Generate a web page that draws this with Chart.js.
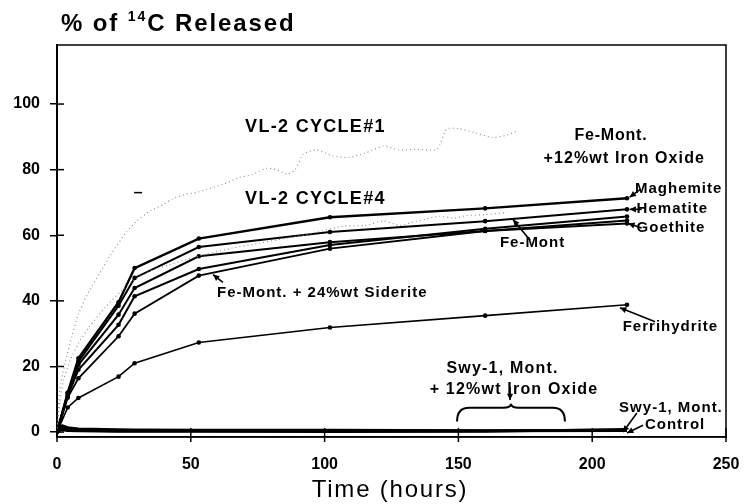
<!DOCTYPE html>
<html>
<head>
<meta charset="utf-8">
<script src="https://cdn.jsdelivr.net/npm/chart.js@4/dist/chart.umd.min.js"></script>
<style>
html,body{margin:0;padding:0;background:#fff;}
#wrap{width:749px;height:504px;position:relative;}
</style>
</head>
<body>
<div id="wrap"><canvas id="c" width="749" height="504"></canvas></div>
<script>
// ---- data ----
const times = [0, 4, 8, 23, 29, 53, 102, 160, 213];
const maghemite   = [0, 12, 22.5, 39.6, 50, 59, 65.5, 68.2, 71.3];
const hematite    = [0, 12, 21.5, 38.5, 47, 56.4, 61, 64.3, 67.9];
const goethite    = [0, 11.5, 20.5, 35.8, 43.9, 53.6, 57.9, 61.3, 63.6];
const feMont      = [0, 11, 19, 32.7, 41.4, 49.7, 57, 62, 65.7];
const siderite    = [0, 10.5, 16.4, 29.2, 36.1, 47.7, 55.9, 61.3, 64.5];
const ferrihydrite= [0, 7.5, 10.4, 16.9, 21, 27.3, 31.9, 35.5, 38.8];

const swyTimes    = [0, 1, 2, 4, 8, 23, 29, 53, 102, 160, 213];
const swyOxideA   = [0, 1.8, 2.0, 1.4, 1.0, 0.8, 0.7, 0.6, 0.6, 0.5, 0.6];
const swyOxideB   = [0, 1.2, 1.5, 1.0, 0.7, 0.5, 0.5, 0.4, 0.4, 0.4, 0.5];
const swyOxideC   = [0, 0.8, 1.0, 0.7, 0.5, 0.3, 0.3, 0.3, 0.3, 0.3, 0.4];
const swyControl  = [0, 0.5, 0.6, 0.4, 0.3, 0.2, 0.2, 0.2, 0.1, 0.2, 0.9];

const cycle1Times = [0, 1, 3, 5.5, 8, 12, 16, 20, 26, 30, 35, 40, 43, 48, 52, 56, 62, 68, 73, 78, 82, 86, 89, 92, 97, 103, 109, 115, 122, 128, 134, 142, 145.6, 150, 156, 163, 168, 172];
const cycle1      = [0, 12.8, 21, 29, 36, 43, 48.5, 54, 61, 64.5, 67.5, 69.5, 71, 72.5, 73, 74, 75.5, 77.6, 78.5, 80.4, 80, 78.6, 80, 84.7, 86, 84.2, 83.7, 85, 87.2, 86, 86.2, 86.2, 92.4, 92.5, 91.3, 89.8, 90.5, 91.8];
const cycle4Times = [0, 1, 2.5, 5, 8, 12, 18, 24, 30, 36, 42, 48, 55, 65, 75, 85, 95, 107, 115, 122, 128, 132, 138, 143, 148, 153, 160, 168];
const cycle4      = [0, 9, 16, 22, 27, 32, 38, 43, 47, 49.5, 51, 52.5, 54, 56, 57.5, 59, 60.5, 62.8, 63, 64.3, 63, 63.8, 65, 65.8, 65.2, 66, 66.3, 66.9];

const xTicks = [0, 50, 100, 150, 200, 250];
const yTicks = [0, 20, 40, 60, 80, 100];

const titleMain = ["% of ", "14", "C Released"];
const xTitle = "Time (hours)";

function pts(xs, ys){ return xs.map((x,i)=>({x:x, y:ys[i]})); }

function solid(label, xs, ys, w){
  return {label, data: pts(xs, ys), borderColor:'#000', backgroundColor:'#000',
    borderWidth:w, pointRadius:2.3, pointBackgroundColor:'#000', pointBorderWidth:0, tension:0};
}
function flat(label, xs, ys){
  return {label, data: pts(xs, ys), borderColor:'#000', borderWidth:2.5, pointRadius:0, tension:0};
}
function dotted(label, xs, ys){
  return {label, data: pts(xs, ys), borderColor:'#8a8a8a', borderWidth:1.1, borderDash:[1,3], pointRadius:0, tension:0.2};
}

// ---- annotations (anchored in data units) ----
const BF = 'bold ';
const FAM = '"Liberation Sans", Arial, sans-serif';
const labels = [
  {t:"VL-2 CYCLE#1", x:70.3, y:93, size:18, align:'left', sp:1.3},
  {t:"VL-2 CYCLE#4", x:70.3, y:71, size:18, align:'left', sp:1.3},
  {t:"Fe-Mont.", x:207, y:90.5, size:16, align:'center', sp:0.8},
  {t:"+12%wt Iron Oxide", x:212, y:83.5, size:16, align:'center', sp:1.1},
  {t:"Maghemite", x:216, y:74, size:15, align:'left', sp:1},
  {t:"Hematite", x:216.6, y:67.9, size:15, align:'left', sp:1},
  {t:"Goethite", x:216.6, y:62.2, size:15, align:'left', sp:1},
  {t:"Fe-Mont", x:165.5, y:57.7, size:15, align:'left', sp:1},
  {t:"Fe-Mont. + 24%wt Siderite", x:59.8, y:42.4, size:15, align:'left', sp:1},
  {t:"Ferrihydrite", x:211.4, y:32, size:15, align:'left', sp:1},
  {t:"Swy-1, Mont.", x:166.5, y:19.3, size:16, align:'center', sp:1.2},
  {t:"+ 12%wt Iron Oxide", x:170.8, y:13, size:16, align:'center', sp:1.2},
  {t:"Swy-1, Mont.", x:248.8, y:7.3, size:15, align:'right', sp:1},
  {t:"Control", x:219.7, y:2.1, size:15, align:'left', sp:1}
];
// arrows: from (x1,y1) to tip (x2,y2), in data units
const arrows = [
  {x1:176.8, y1:58.5, x2:170.4, y2:64.8},
  {x1:62, y1:45.6, x2:58.3, y2:48},
  {x1:223.5, y1:33.6, x2:210.4, y2:37.9},
  {x1:169.3, y1:13.8, x2:169.3, y2:9.8},
  {x1:216.7, y1:5.8, x2:211.5, y2:0},
  {x1:219.0, y1:2.1, x2:213.0, y2:-0.3},
  {x1:218.5, y1:62.2, x2:213.5, y2:63.6},
  {x1:218.5, y1:67.9, x2:214.0, y2:67.9},
  {x1:218.0, y1:74, x2:214.0, y2:71.6}
];
const brace = {x1:149.5, x2:189.8, yTop:8.3, yBot:3.2};
const stray = {x:30.3, y:73};

function drawText(ctx, s, x, y, size, align, sp, weight){
  ctx.save();
  ctx.font = (weight||BF) + size + 'px ' + FAM;
  ctx.letterSpacing = sp + 'px';
  ctx.textBaseline = 'middle';
  ctx.fillStyle = '#000';
  let w = ctx.measureText(s).width;
  let lx = x;
  if (align === 'center') lx = x - w/2;
  else if (align === 'right') lx = x - w;
  ctx.textAlign = 'left';
  ctx.fillText(s, lx, y);
  ctx.restore();
}
function drawArrow(ctx, x1,y1,x2,y2){
  ctx.save();
  ctx.strokeStyle='#000'; ctx.fillStyle='#000'; ctx.lineWidth=1.6;
  ctx.beginPath(); ctx.moveTo(x1,y1); ctx.lineTo(x2,y2); ctx.stroke();
  const a = Math.atan2(y2-y1, x2-x1), L=7, W=0.45;
  ctx.beginPath();
  ctx.moveTo(x2,y2);
  ctx.lineTo(x2 - L*Math.cos(a-W), y2 - L*Math.sin(a-W));
  ctx.lineTo(x2 - L*Math.cos(a+W), y2 - L*Math.sin(a+W));
  ctx.closePath(); ctx.fill();
  ctx.restore();
}

const deco = {
  id:'deco',
  afterDraw(chart){
    const ctx = chart.ctx, xs = chart.scales.x, ys = chart.scales.y, ca = chart.chartArea;
    const X = v=>xs.getPixelForValue(v), Y = v=>ys.getPixelForValue(v);
    ctx.save();
    // box
    ctx.strokeStyle='#000'; ctx.lineWidth=1.5;
    ctx.beginPath(); ctx.moveTo(ca.left, ca.top); ctx.lineTo(ca.right, ca.top); ctx.lineTo(ca.right, ca.bottom); ctx.lineTo(ca.left, ca.bottom); ctx.stroke();
    // tick marks crossing the axes
    ctx.lineWidth=1.5;
    yTicks.forEach(v=>{ const p=Y(v); ctx.beginPath(); ctx.moveTo(ca.left, p); ctx.lineTo(ca.left+7, p); ctx.stroke(); });
    xTicks.forEach(v=>{ const p=X(v); ctx.beginPath(); ctx.moveTo(p, ca.bottom+5); ctx.lineTo(p, ca.bottom-9); ctx.stroke(); });
    // title
    ctx.fillStyle='#000'; ctx.textBaseline='alphabetic'; ctx.textAlign='left';
    ctx.letterSpacing='1.9px';
    let tx = 61;
    ctx.font = 'bold 24px ' + FAM; ctx.fillText(titleMain[0], tx, 31); tx += ctx.measureText(titleMain[0]).width;
    ctx.font = 'bold 14px ' + FAM; ctx.fillText(titleMain[1], tx, 21); tx += ctx.measureText(titleMain[1]).width;
    ctx.font = 'bold 24px ' + FAM; ctx.fillText(titleMain[2], tx, 31);
    ctx.letterSpacing='0px';
    // x title
    drawText(ctx, xTitle, 390, 490, 24, 'center', 1.8, 'normal ');
    // labels
    labels.forEach(l=> drawText(ctx, l.t, X(l.x), Y(l.y), l.size, l.align, l.sp));
    arrows.forEach(a=> drawArrow(ctx, X(a.x1), Y(a.y1), X(a.x2), Y(a.y2)));
    // brace
    const bx1=X(brace.x1), bx2=X(brace.x2), bt=Y(brace.yTop), bb=Y(brace.yBot), bm=(bx1+bx2)/2;
    ctx.lineWidth=2;
    ctx.beginPath();
    ctx.moveTo(bx1, bb);
    ctx.quadraticCurveTo(bx1, bt+3, bx1+12, bt+3);
    ctx.lineTo(bm-8, bt+3);
    ctx.quadraticCurveTo(bm, bt+3, bm, bt-1);
    ctx.quadraticCurveTo(bm, bt+3, bm+8, bt+3);
    ctx.lineTo(bx2-12, bt+3);
    ctx.quadraticCurveTo(bx2, bt+3, bx2, bb);
    ctx.stroke();
    // stray mark
    ctx.lineWidth=1.5;
    ctx.beginPath(); ctx.moveTo(X(stray.x)-4, Y(stray.y)); ctx.lineTo(X(stray.x)+4, Y(stray.y)); ctx.stroke();
    ctx.restore();
  }
};

Chart.defaults.font.family = FAM;
Chart.defaults.color = '#000';

new Chart(document.getElementById('c'), {
  type:'line',
  data:{ datasets:[
    dotted('VL-2 Cycle#1', cycle1Times, cycle1),
    dotted('VL-2 Cycle#4', cycle4Times, cycle4),
    solid('Maghemite', times, maghemite, 2.4),
    solid('Hematite', times, hematite, 2),
    solid('Goethite', times, goethite, 2),
    solid('Fe-Mont', times, feMont, 2),
    solid('Fe-Mont + 24%wt Siderite', times, siderite, 1.8),
    solid('Ferrihydrite', times, ferrihydrite, 1.6),
    flat('Swy-1 + oxide A', swyTimes, swyOxideA),
    flat('Swy-1 + oxide B', swyTimes, swyOxideB),
    flat('Swy-1 + oxide C', swyTimes, swyOxideC),
    flat('Swy-1 Control', swyTimes, swyControl)
  ]},
  options:{
    responsive:false, animation:false, events:[],
    layout:{padding:{top:45, right:23, left:0, bottom:0}},
    plugins:{legend:{display:false}, tooltip:{enabled:false}, title:{display:false}},
    scales:{
      x:{ type:'linear', min:0, max:250,
        afterBuildTicks: s=>{ s.ticks = xTicks.map(v=>({value:v})); },
        afterFit: s=>{ s.height = 67; },
        grid:{display:true, drawOnChartArea:false, drawTicks:true, tickLength:9, tickColor:'rgba(0,0,0,0)', color:'#000', lineWidth:1.5},
        border:{display:true, color:'#000', width:1.5},
        ticks:{font:{size:16, weight:'bold'}, padding:9, maxRotation:0, autoSkip:false}
      },
      y:{ type:'linear', min:-1.5, max:118,
        afterBuildTicks: s=>{ s.ticks = yTicks.map(v=>({value:v})); },
        afterFit: s=>{ s.width = 57; },
        grid:{display:true, drawOnChartArea:false, drawTicks:true, tickLength:7, color:'#000', lineWidth:1.5},
        border:{display:true, color:'#000', width:2},
        ticks:{font:{size:16, weight:'bold'}, padding:10}
      }
    }
  },
  plugins:[deco]
});
</script>
</body>
</html>
